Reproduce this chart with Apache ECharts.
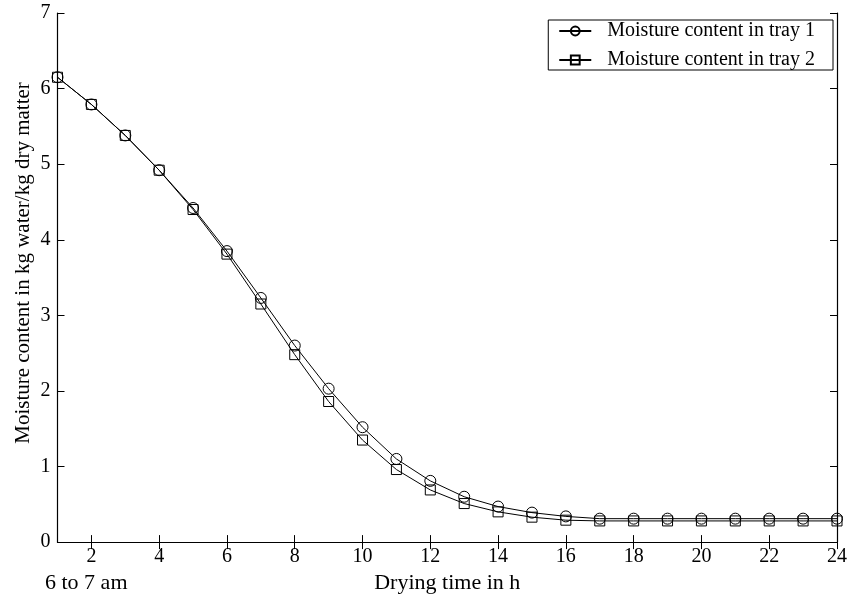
<!DOCTYPE html>
<html>
<head>
<meta charset="utf-8">
<script src="https://cdn.jsdelivr.net/npm/echarts@6/dist/echarts.min.js"></script>
<style>html,body{margin:0;padding:0;background:#fff;}#c{width:850px;height:599px;}</style>
</head>
<body>
<div id="c"></div>
<script>
var hours = [1,2,3,4,5,6,7,8,9,10,11,12,13,14,15,16,17,18,19,20,21,22,23,24];
var tray1 = [6.15,5.79,5.38,4.92,4.42,3.85,3.23,2.60,2.03,1.52,1.10,0.81,0.60,0.47,0.39,0.34,0.31,0.31,0.31,0.31,0.31,0.31,0.31,0.31];
var tray2 = [6.15,5.79,5.38,4.92,4.40,3.81,3.15,2.48,1.86,1.35,0.96,0.69,0.51,0.40,0.33,0.29,0.28,0.28,0.28,0.28,0.28,0.28,0.28,0.28];
var xTicks = [2,4,6,8,10,12,14,16,18,20,22,24];
var yTicks = [0,1,2,3,4,5,6,7];
var seriesNames = ['Moisture content in tray 1','Moisture content in tray 2'];
var xTitle = 'Drying time in h';
var yTitle = 'Moisture content in kg water/kg dry matter';
var startLabel = '6 to 7 am';

var FONT = 'Liberation Serif';
function pairs(ys){ return hours.map(function(h,i){ return [h, ys[i]]; }); }

var chart = echarts.init(document.getElementById('c'), null, {renderer:'canvas'});
var axisLine = {show:true, lineStyle:{color:'#000', width:1.2}};
var tick = {show:true, inside:true, length:7, lineStyle:{color:'#000', width:1}};
var lab = {color:'#000', fontFamily:FONT, fontSize:20};
chart.setOption({
  animation:false,
  backgroundColor:'#fff',
  grid:{left:57.5, right:11.3, top:13, bottom:54.3},
  legend:{
    orient:'vertical', right:17, top:20,
    backgroundColor:'#fff',
    borderColor:'#000', borderWidth:1, borderRadius:0,
    padding:[1,18,0,10], itemGap:9, itemWidth:32, itemHeight:11,
    textStyle:{color:'#000', fontFamily:FONT, fontSize:20, padding:[0,0,0,11]},
    data:seriesNames
  },
  xAxis:[{
    type:'value', min:1, max:24, position:'bottom',
    axisLine:axisLine,
    axisTick:Object.assign({customValues:xTicks}, tick),
    axisLabel:Object.assign({customValues:xTicks, margin:5}, lab),
    splitLine:{show:false},
    name:xTitle, nameLocation:'middle', nameGap:28,
    nameTextStyle:{color:'#000', fontFamily:FONT, fontSize:22}
  },{
    type:'value', min:1, max:24, position:'top',
    axisLine:axisLine,
    axisTick:Object.assign({customValues:xTicks}, tick),
    axisLabel:{show:false},
    splitLine:{show:false}
  }],
  yAxis:[{
    type:'value', min:0, max:7, interval:1, position:'left',
    axisLine:axisLine, axisTick:tick,
    axisLabel:Object.assign({margin:7}, lab),
    splitLine:{show:false}
  },{
    type:'value', min:0, max:7, interval:1, position:'right',
    axisLine:axisLine, axisTick:tick,
    axisLabel:{show:false},
    splitLine:{show:false}
  }],
  graphic:[{
    type:'text', left:45, top:572,
    style:{text:startLabel, fill:'#000', font:'22px "Liberation Serif"'}
  },{
    type:'text', x:23, y:263, rotation:Math.PI/2,
    style:{text:yTitle, fill:'#000', font:'21px "Liberation Serif"', align:'center', verticalAlign:'middle'}
  }],
  series:[{
    name:seriesNames[0], type:'line', data:pairs(tray1),
    symbol:'circle', symbolSize:11,
    lineStyle:{color:'#000', width:1},
    itemStyle:{color:'rgba(0,0,0,0)', borderColor:'#000', borderWidth:1}
  },{
    name:seriesNames[1], type:'line', data:pairs(tray2),
    symbol:'rect', symbolSize:10,
    lineStyle:{color:'#000', width:1},
    itemStyle:{color:'rgba(0,0,0,0)', borderColor:'#000', borderWidth:1}
  }]
});
</script>
</body>
</html>
